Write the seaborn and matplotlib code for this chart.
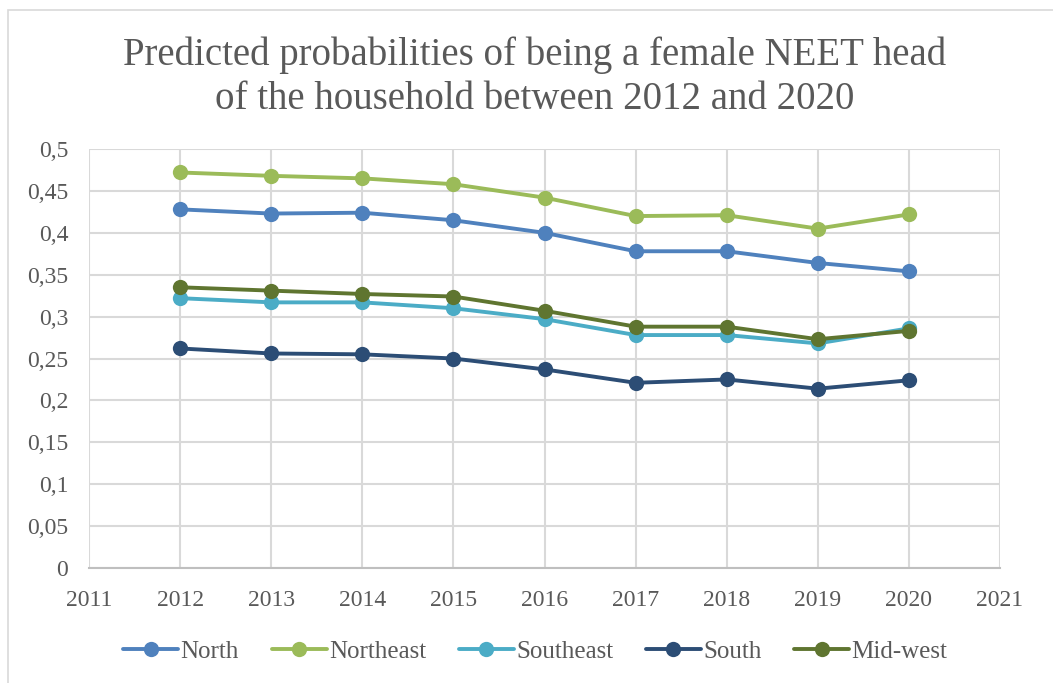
import pandas as pd
import matplotlib
matplotlib.use('Agg')
import matplotlib.pyplot as plt
import seaborn as sns
from matplotlib.patches import Rectangle

years = [2012, 2013, 2014, 2015, 2016, 2017, 2018, 2019, 2020]
north = [0.428, 0.423, 0.424, 0.415, 0.400, 0.378, 0.378, 0.364, 0.354]
northeast = [0.472, 0.468, 0.465, 0.458, 0.442, 0.420, 0.421, 0.405, 0.422]
southeast = [0.322, 0.317, 0.317, 0.310, 0.297, 0.278, 0.278, 0.268, 0.286]
south = [0.262, 0.256, 0.255, 0.250, 0.237, 0.221, 0.225, 0.214, 0.224]
midwest = [0.335, 0.331, 0.327, 0.324, 0.307, 0.288, 0.288, 0.273, 0.283]

regions = ['North', 'Northeast', 'Southeast', 'South', 'Mid-west']
colors = ['#4F81BD', '#9BBB59', '#4BACC6', '#2C4D75', '#5F7530']
x_ticks = list(range(2011, 2022))
y_ticks = [0, 0.05, 0.1, 0.15, 0.2, 0.25, 0.3, 0.35, 0.4, 0.45, 0.5]
y_labels = ['0', '0,05', '0,1', '0,15', '0,2', '0,25', '0,3', '0,35', '0,4', '0,45', '0,5']

def build_frame():
    series = [north, northeast, southeast, south, midwest]
    rows = []
    for name, vals in zip(regions, series):
        for yr, v in zip(years, vals):
            rows.append({'year': yr, 'value': v, 'region': name})
    return pd.DataFrame(rows)

def main():
    sns.set_style('white')
    plt.rcParams['font.family'] = ['Liberation Serif', 'DejaVu Serif']
    data = build_frame()

    fig = plt.figure(figsize=(10.53, 6.83), dpi=100)
    ax = fig.add_axes([0.0845, 0.1684, 0.8652, 0.6134])

    sns.lineplot(data=data, x='year', y='value', hue='region', hue_order=regions,
                 palette=colors, marker='o', markersize=11, markeredgewidth=0,
                 linewidth=2.8, ax=ax, legend=True)

    ax.set_xlim(2011, 2021)
    ax.set_ylim(0, 0.5)
    ax.set_xticks(x_ticks)
    ax.set_xticklabels([str(t) for t in x_ticks])
    ax.set_yticks(y_ticks)
    ax.set_yticklabels(y_labels)
    ax.grid(True, color='#d9d9d9', linewidth=1.5)
    ax.set_axisbelow(True)
    for s in ['top', 'right', 'left']:
        ax.spines[s].set_visible(False)
    ax.spines['bottom'].set_color('#bfbfbf')
    ax.spines['bottom'].set_linewidth(1.5)
    ax.tick_params(axis='both', labelsize=17, labelcolor='#595959', length=0)
    ax.tick_params(axis='y', pad=15)
    ax.tick_params(axis='x', pad=16)
    ax.set_xlabel('')
    ax.set_ylabel('')

    handles, labels = ax.get_legend_handles_labels()
    ax.legend(handles, labels, loc='center', bbox_to_anchor=(0.49, -0.2),
              ncol=5, frameon=False, fontsize=18, handlelength=2.2,
              handletextpad=0.1, columnspacing=1.3, labelcolor='#595959')

    fig.text(0.508, 0.887, 'Predicted probabilities of being a female NEET head\n'
             'of the household between 2012 and 2020',
             ha='center', va='center', fontsize=28, color='#595959', linespacing=1.22)

    fig.patches.append(Rectangle((8 / 1053, -0.01), 1.0, 1 - 10 / 683 + 0.01,
                                 transform=fig.transFigure, fill=False,
                                 edgecolor='#d9d9d9', linewidth=1.2))

    fig.savefig('out.png', dpi=100, facecolor='white')

if __name__ == '__main__':
    main()
